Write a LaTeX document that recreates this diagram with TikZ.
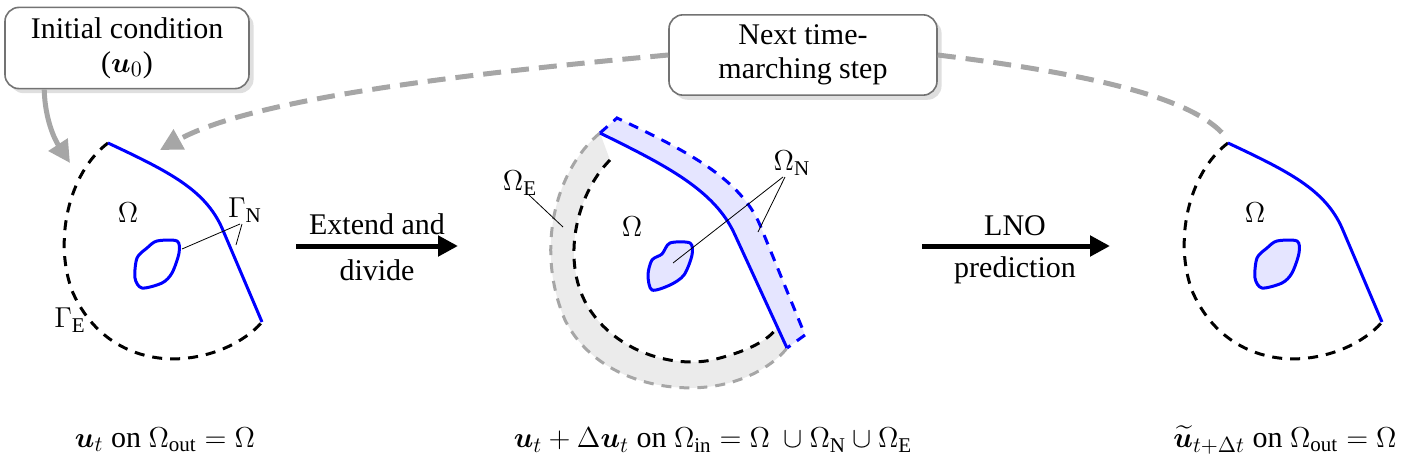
\documentclass[tikz,border=0pt]{standalone}
\usepackage{amsmath}
\usepackage{bm}
\usepackage{fontspec}
\setmainfont{Liberation Serif}
\usepackage{tikz}
\usetikzlibrary{arrows.meta,positioning,shadows}

\begin{document}
\begin{tikzpicture}[
    x=0.5pt, y=-0.5pt,
    every node/.style={font=\fontsize{15}{17}\selectfont},
    callout/.style={rectangle, rounded corners=7pt, draw=black!55, fill=white, thick, align=center, inner sep=5pt, drop shadow={opacity=0.25}},
    neumann/.style={blue, line width=1.5pt},
    essential/.style={black, line width=1.5pt, dash pattern=on 5pt off 4pt},
    blob/.style={blue, line width=1.5pt},
    feed/.style={-{Triangle[length=11pt,width=11pt]}, line width=2.5pt, black!35},
    march/.style={line width=2.5pt, black!35, dash pattern=on 9pt off 5pt},
    arrow/.style={-{Triangle[length=10pt,width=10pt]}, line width=2.5pt},
    pointer/.style={thin}
]
    \useasboundingbox (0,0) rectangle (1420,461);

    % left domain
    \draw[essential] (108,143) .. controls (68,173) and (53,243) .. (73,293) .. controls (98,348) and (148,363) .. (188,358) .. controls (228,353) and (253,333) .. (262,322);
    \draw[neumann] (108,143) .. controls (170,172) and (205,190) .. (222,228) -- (262,322);
    \draw[blob] plot[smooth cycle] coordinates {(137,258) (147,248) (157,241) (177,241) (179,253) (172,273) (162,283) (142,288) (135,278)};
    \node (omegaL) at (128,213) {$\Omega$};
    \node (gammaN) at (245,210) {$\Gamma_{\mathrm{N}}$};
    \node (gammaE) at (70,320) {$\Gamma_{\mathrm{E}}$};
    \draw[pointer] (240,224) -- (182,249);
    \draw[pointer] (242,224) -- (236,245);

    % middle domain
    \fill[black!8] (600,133) .. controls (555,170) and (535,250) .. (565,320) .. controls (595,380) and (670,395) .. (720,385) .. controls (755,378) and (778,360) .. (787,348) -- (777,328) .. controls (768,340) and (750,350) .. (720,358) .. controls (680,370) and (620,355) .. (590,310) .. controls (560,265) and (575,195) .. (610,160) -- cycle;
    \fill[blue!10] (600,133) -- (617,118) .. controls (685,150) and (740,178) .. (760,225) -- (805,335) -- (787,348) -- (735,235) .. controls (715,190) and (665,165) .. cycle;
    \draw[essential, black!35] (600,133) .. controls (555,170) and (535,250) .. (565,320) .. controls (595,380) and (670,395) .. (720,385) .. controls (755,378) and (778,360) .. (787,348);
    \draw[essential] (610,160) .. controls (575,195) and (560,265) .. (590,310) .. controls (620,355) and (680,370) .. (720,358) .. controls (750,350) and (768,340) .. (777,328);
    \draw[essential, blue] (600,133) -- (617,118) .. controls (685,150) and (740,178) .. (760,225) -- (805,335) -- (787,348);
    \draw[neumann] (600,133) .. controls (665,165) and (715,190) .. (735,235) -- (787,348);
    \draw[blob, fill=blue!10] plot[smooth cycle] coordinates {(652,260) (662,254) (670,243) (690,243) (692,255) (684,275) (670,285) (652,290) (648,275)};
    \node (omegaM) at (632,227) {$\Omega$};
    \node (omegaE) at (520,183) {$\Omega_{\mathrm{E}}$};
    \node (omegaN) at (792,163) {$\Omega_{\mathrm{N}}$};
    \draw[pointer] (529,195) -- (563,227);
    \draw[pointer] (783,177) -- (673,263);
    \draw[pointer] (785,177) -- (758,232);

    % right domain
    \begin{scope}[shift={(1120,0)}]
        \draw[essential] (108,143) .. controls (68,173) and (53,243) .. (73,293) .. controls (98,348) and (148,363) .. (188,358) .. controls (228,353) and (253,333) .. (262,322);
        \draw[neumann] (108,143) .. controls (170,172) and (205,190) .. (222,228) -- (262,322);
        \draw[blob, fill=blue!10] plot[smooth cycle] coordinates {(137,258) (147,248) (157,241) (177,241) (179,253) (172,273) (162,283) (142,288) (135,278)};
        \node (omegaR) at (135,213) {$\Omega$};
    \end{scope}

    % operators
    \coordinate (extA) at (296,246);
    \coordinate (extB) at (458,246);
    \coordinate (lnoA) at (922,246);
    \coordinate (lnoB) at (1110,246);
    \draw[arrow] (extA) -- (extB);
    \draw[arrow] (lnoA) -- (lnoB);
    \node (extend) at (377,224) {Extend and};
    \node (divide) at (377,270) {divide};
    \node (lno) at (1015,226) {LNO};
    \node (predict) at (1015,270) {prediction};

    % time marching
    \node[callout, minimum width=122pt] (init) at (127,48) {Initial condition\\($\bm u_0$)};
    \node[callout, minimum width=134pt] (next) at (803,55) {Next time-\\marching step};
    \coordinate (startL) at (70,163);
    \coordinate (startLbl) at (160,150);
    \coordinate (startR) at (1228,140);
    \draw[feed] (init.south west) ++(40,0) .. controls (45,120) and (55,140) .. (startL);
    \draw[march, -{Triangle[length=11pt,width=11pt]}] (next.west) .. controls (450,75) and (250,100) .. (startLbl);
    \draw[march] (next.east) .. controls (1100,75) and (1200,100) .. (startR);

    % states
    \node (stateL) at (165,440) {$\bm u_t$ on $\Omega_{\text{out}} = \Omega$};
    \node (stateM) at (713,440) {$\bm u_t + \Delta\bm u_t$ on $\Omega_{\text{in}} = \Omega\ \cup \Omega_{\mathrm{N}} \cup \Omega_{\mathrm{E}}$};
    \node (stateR) at (1285,440) {$\widetilde{\bm u}_{t+\Delta t}$\ on $\Omega_{\text{out}} = \Omega$};
\end{tikzpicture}
\end{document}
